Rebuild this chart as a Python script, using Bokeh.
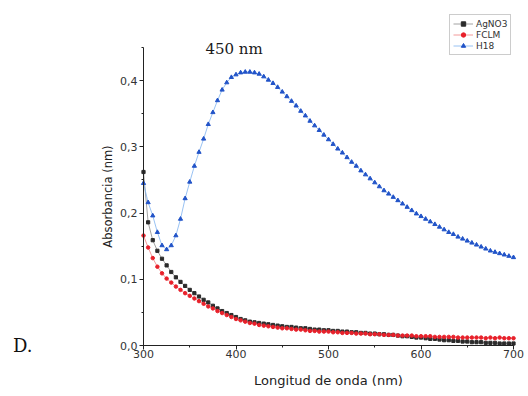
from bokeh.plotting import figure
from bokeh.models import (Range1d, SingleIntervalTicker, CustomJSTickFormatter,
                          Legend, LegendItem, Label, LinearAxis)
from bokeh.embed import file_html
from bokeh.resources import INLINE

wavelength = list(range(300, 705, 5))

agno3 = [0.262, 0.186, 0.159, 0.143, 0.131, 0.121, 0.111, 0.103, 0.096, 0.090,
         0.084, 0.079, 0.074, 0.069, 0.065, 0.060, 0.056, 0.052, 0.049, 0.046,
         0.043, 0.040, 0.038, 0.036, 0.035, 0.034, 0.033, 0.032, 0.031, 0.030,
         0.029, 0.028, 0.028, 0.027, 0.026, 0.026, 0.025, 0.024, 0.024, 0.023,
         0.023, 0.022, 0.022, 0.021, 0.021, 0.020, 0.020, 0.019, 0.019, 0.018,
         0.018, 0.017, 0.017, 0.016, 0.016, 0.015, 0.014, 0.014, 0.013, 0.012,
         0.012, 0.011, 0.010, 0.010, 0.009, 0.008, 0.008, 0.007, 0.007, 0.006,
         0.006, 0.005, 0.005, 0.005, 0.004, 0.004, 0.004, 0.003, 0.003, 0.003,
         0.003]

fclm = [0.166, 0.148, 0.132, 0.119, 0.109, 0.101, 0.095, 0.089, 0.084, 0.079,
        0.075, 0.071, 0.067, 0.063, 0.059, 0.056, 0.052, 0.049, 0.046, 0.043,
        0.040, 0.038, 0.036, 0.034, 0.033, 0.031, 0.030, 0.029, 0.028, 0.027,
        0.026, 0.026, 0.025, 0.024, 0.024, 0.023, 0.022, 0.022, 0.021, 0.021,
        0.021, 0.020, 0.020, 0.019, 0.019, 0.019, 0.018, 0.018, 0.018, 0.017,
        0.017, 0.017, 0.016, 0.016, 0.016, 0.015, 0.015, 0.015, 0.015, 0.014,
        0.014, 0.014, 0.014, 0.013, 0.013, 0.013, 0.013, 0.013, 0.012, 0.012,
        0.012, 0.012, 0.012, 0.012, 0.011, 0.012, 0.011, 0.012, 0.011, 0.011,
        0.011]

h18 = [0.245, 0.216, 0.196, 0.171, 0.151, 0.145, 0.151, 0.166, 0.191, 0.222,
       0.247, 0.271, 0.292, 0.312, 0.334, 0.352, 0.370, 0.386, 0.397, 0.405,
       0.409, 0.412, 0.413, 0.413, 0.412, 0.410, 0.406, 0.401, 0.396, 0.390,
       0.383, 0.376, 0.369, 0.362, 0.354, 0.347, 0.339, 0.332, 0.325, 0.318,
       0.311, 0.304, 0.297, 0.291, 0.284, 0.277, 0.271, 0.264, 0.258, 0.252,
       0.246, 0.240, 0.234, 0.229, 0.224, 0.219, 0.214, 0.209, 0.204, 0.199,
       0.195, 0.191, 0.187, 0.183, 0.179, 0.175, 0.171, 0.168, 0.164, 0.161,
       0.158, 0.155, 0.152, 0.149, 0.146, 0.143, 0.141, 0.139, 0.137, 0.135,
       0.133]

series_names = ["AgNO3", "FCLM", "H18"]
annotation_text = "450 nm"
panel_letter = "D."
x_label = "Longitud de onda (nm)"
y_label = "Absorbancia (nm)"

W, H = 528, 396
# data extent of the drawn axes and where they sit on the page (pixels)
x_lo, x_hi = 300, 700
y_lo, y_hi = 0.0, 0.45
px_left, px_right = 143, 513
px_bottom, px_top = 345, 47

sx = (px_right - px_left) / (x_hi - x_lo)
sy = (px_bottom - px_top) / (y_hi - y_lo)
xr = Range1d(x_lo - px_left / sx, x_hi + (W - px_right) / sx)
yr = Range1d(y_lo - (H - px_bottom) / sy, y_hi + px_top / sy)

p = figure(width=W, height=H, output_backend="svg", toolbar_location=None,
           x_range=xr, y_range=yr, x_axis_location=None, y_axis_location=None,
           min_border=0)
p.outline_line_color = None
p.background_fill_color = "white"
p.border_fill_color = "white"
p.grid.visible = False

# series
l1 = p.line(wavelength, agno3, line_color="#8a8a8a", line_width=0.8)
s1 = p.scatter(wavelength, agno3, marker="square", size=3.2,
               fill_color="#2b2b2b", line_color="#2b2b2b")
l2 = p.line(wavelength, fclm, line_color="#f08080", line_width=0.8)
s2 = p.scatter(wavelength, fclm, marker="circle", size=3.5,
               fill_color="#e8202a", line_color="#e8202a")
l3 = p.line(wavelength, h18, line_color="#7fb2f0", line_width=0.8)
s3 = p.scatter(wavelength, h18, marker="triangle", size=4.2,
               fill_color="#2153c8", line_color="#2153c8")

# axes at fixed positions
xaxis = LinearAxis(fixed_location=y_lo, bounds=(x_lo, x_hi),
                   ticker=SingleIntervalTicker(interval=100, num_minor_ticks=2),
                   axis_label=x_label)
yaxis = LinearAxis(fixed_location=x_lo, bounds=(y_lo, y_hi),
                   ticker=SingleIntervalTicker(interval=0.1, num_minor_ticks=2),
                   formatter=CustomJSTickFormatter(code="return tick.toFixed(1).replace('.', ',');"),
                   axis_label=y_label)
for ax in (xaxis, yaxis):
    ax.axis_line_color = "#222222"
    ax.axis_line_width = 1
    ax.major_tick_line_color = "#222222"
    ax.minor_tick_line_color = "#222222"
    ax.major_tick_out = 4
    ax.major_tick_in = 0
    ax.minor_tick_out = 2
    ax.minor_tick_in = 0
    ax.major_label_text_font = "DejaVu Sans"
    ax.major_label_text_font_size = "11px"
    ax.major_label_text_color = "#333333"
    ax.axis_label_text_font = "DejaVu Sans"
    ax.axis_label_text_font_style = "normal"
    ax.axis_label_text_color = "#222222"
xaxis.axis_label_text_font_size = "13px"
yaxis.axis_label_text_font_size = "11.5px"
xaxis.major_label_standoff = 0
yaxis.major_label_standoff = 2
xaxis.axis_label_standoff = 12
yaxis.axis_label_standoff = 2
p.add_layout(xaxis, "below")
p.add_layout(yaxis, "left")

# legend
legend = Legend(items=[
    LegendItem(label=series_names[0], renderers=[l1, s1]),
    LegendItem(label=series_names[1], renderers=[l2, s2]),
    LegendItem(label=series_names[2], renderers=[l3, s3]),
], location=(449, H - 55))
legend.label_text_font = "DejaVu Sans"
legend.label_text_font_size = "9px"
legend.label_text_color = "#333333"
legend.label_height = 11
legend.glyph_height = 11
legend.glyph_width = 20
legend.label_standoff = 3
legend.spacing = 0
legend.padding = 3
legend.margin = 0
legend.border_line_color = "#9a9a9a"
legend.border_line_width = 1
legend.background_fill_color = "white"
legend.background_fill_alpha = 1
p.add_layout(legend, "center")

# annotations
p.add_layout(Label(x=367, y=0.448, text=annotation_text, text_font="DejaVu Serif",
                   text_font_size="15px", text_baseline="middle", text_color="#1a1a1a"))
p.add_layout(Label(x=159, y=0.0, text=panel_letter, text_font="DejaVu Serif",
                   text_font_size="18px", text_baseline="middle", text_color="#111111"))

open("out.html", "w").write(file_html(p, INLINE))
